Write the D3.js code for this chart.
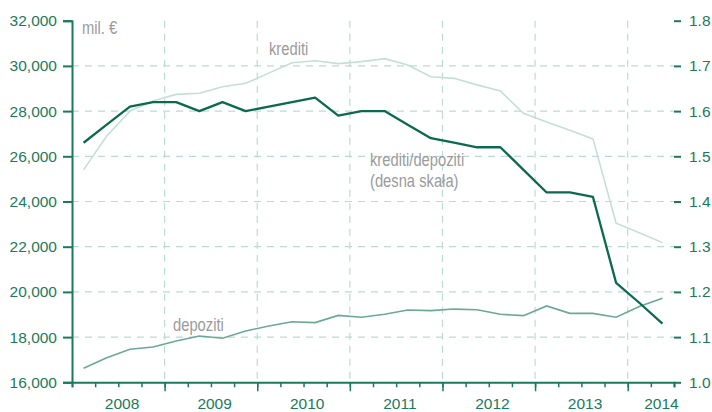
<!DOCTYPE html>
<html>
<head>
<meta charset="utf-8">
<script src="https://cdn.jsdelivr.net/npm/d3@7"></script>
<style>
  body { margin: 0; background: #fff; }
</style>
</head>
<body>
<script>
// quarterly data 2008Q1 .. 2014Q2
const quarters = [
  "2008Q1", "2008Q2", "2008Q3", "2008Q4",
  "2009Q1", "2009Q2", "2009Q3", "2009Q4",
  "2010Q1", "2010Q2", "2010Q3", "2010Q4",
  "2011Q1", "2011Q2", "2011Q3", "2011Q4",
  "2012Q1", "2012Q2", "2012Q3", "2012Q4",
  "2013Q1", "2013Q2", "2013Q3", "2013Q4",
  "2014Q1", "2014Q2"
];
const krediti = [
  25400, 26900, 28000, 28450,
  28740, 28790, 29080, 29230,
  29680, 30140, 30230, 30100,
  30190, 30320, 30040, 29520,
  29450, 29160, 28890, 27900,
  27520, 27150, 26770, 23040,
  22620, 22180
];
const depoziti = [
  16620, 17090, 17460, 17560,
  17830, 18050, 17950, 18270,
  18490, 18680, 18640, 18960,
  18880, 19010, 19200, 19170,
  19240, 19210, 19010, 18950,
  19380, 19050, 19050, 18880,
  19350, 19720
];
const ratio = [
  1.53, 1.57, 1.61, 1.62,
  1.62, 1.60, 1.62, 1.60,
  1.61, 1.62, 1.63, 1.59,
  1.60, 1.60, 1.57, 1.54,
  1.53, 1.52, 1.52, 1.47,
  1.42, 1.42, 1.41, 1.22,
  1.176, 1.13
];
const leftTicks = [16000, 18000, 20000, 22000, 24000, 26000, 28000, 30000, 32000];
const rightTicks = [1.0, 1.1, 1.2, 1.3, 1.4, 1.5, 1.6, 1.7, 1.8];
const years = ["2008", "2009", "2010", "2011", "2012", "2013", "2014"];

const tickFont = "'Liberation Sans', Arial, sans-serif";
const labelFont = "'Liberation Sans', Arial, sans-serif";
const axisColor = "#1c7a5c";
const gridColor = "#bcdcd0";
const noteColor = "#9b9b9b";

const svg = d3.select("body").append("svg")
  .attr("width", 712)
  .attr("height", 412);

// quarter -> decimal year at the middle of the quarter
const qx = (q) => +q.slice(0, 4) + (+q.slice(5) - 0.5) / 4;

const x = d3.scaleLinear().domain([2008, 2014.5]).range([72, 674]);
const yL = d3.scaleLinear().domain([16000, 32000]).range([382.3, 20.7]);
const yR = d3.scaleLinear().domain([1.0, 1.8]).range([382.3, 20.7]);

// grid
svg.append("g").selectAll("line")
  .data(leftTicks.slice(1, -1))
  .enter().append("line")
  .attr("x1", x(2008)).attr("x2", x(2014.5))
  .attr("y1", d => yL(d)).attr("y2", d => yL(d))
  .attr("stroke", gridColor).attr("stroke-width", 1.2)
  .attr("stroke-dasharray", "7,6");

svg.append("g").selectAll("line")
  .data(d3.range(2009, 2015))
  .enter().append("line")
  .attr("x1", d => x(d)).attr("x2", d => x(d))
  .attr("y1", yL(32000)).attr("y2", yL(16000))
  .attr("stroke", gridColor).attr("stroke-width", 1.2)
  .attr("stroke-dasharray", "7,6");

// bottom axis: quarter ticks and year ticks
const quarterTicks = d3.range(0, 27).map(i => 2008 + i / 4);
const gQ = svg.append("g")
  .attr("transform", `translate(0,${yL(16000)})`)
  .call(d3.axisBottom(x).tickValues(quarterTicks).tickSize(5).tickFormat(""));
gQ.select(".domain").attr("stroke", axisColor).attr("stroke-width", 2);
gQ.selectAll(".tick line").attr("stroke", axisColor).attr("stroke-width", 1.5);

const gY = svg.append("g")
  .attr("transform", `translate(0,${yL(16000)})`)
  .call(d3.axisBottom(x).tickValues(d3.range(2009, 2015)).tickSize(9).tickFormat(""));
gY.select(".domain").remove();
gY.selectAll(".tick line").attr("stroke", axisColor).attr("stroke-width", 1.5);

const yearPos = [2008.54, 2009.54, 2010.54, 2011.54, 2012.54, 2013.54, 2014.365];
svg.append("g").selectAll("text")
  .data(years)
  .enter().append("text")
  .attr("x", (d, i) => x(yearPos[i]))
  .attr("y", 409)
  .attr("text-anchor", "middle")
  .attr("font-family", tickFont)
  .attr("font-size", 15.5)
  .attr("fill", axisColor)
  .text(d => d);

// left axis
const gL = svg.append("g")
  .attr("transform", `translate(${x(2008)},0)`)
  .call(d3.axisLeft(yL).tickValues(leftTicks).tickSize(9).tickPadding(6)
    .tickFormat(d3.format(",")));
gL.select(".domain").attr("stroke", axisColor).attr("stroke-width", 2);
gL.selectAll(".tick line").attr("stroke", axisColor).attr("stroke-width", 2);
gL.selectAll(".tick text")
  .attr("font-family", tickFont).attr("font-size", 15.5).attr("fill", axisColor);

// right axis
const gR = svg.append("g")
  .attr("transform", `translate(${x(2014.5)},0)`)
  .call(d3.axisRight(yR).tickValues(rightTicks).tickSize(7).tickPadding(8)
    .tickFormat(d3.format(".1f")));
gR.select(".domain").remove();
gR.selectAll(".tick line").attr("stroke", axisColor).attr("stroke-width", 2);
gR.selectAll(".tick text")
  .attr("font-family", tickFont).attr("font-size", 15.5).attr("fill", axisColor);

// lines
const lineL = (vals) => d3.line()
  .x((d, i) => x(qx(quarters[i])))
  .y(d => yL(d))(vals);
const lineR = d3.line()
  .x((d, i) => x(qx(quarters[i])))
  .y(d => yR(d));

svg.append("path")
  .attr("d", lineL(krediti))
  .attr("fill", "none")
  .attr("stroke", "#c4e0d5")
  .attr("stroke-width", 1.6);

svg.append("path")
  .attr("d", lineL(depoziti))
  .attr("fill", "none")
  .attr("stroke", "#6aa994")
  .attr("stroke-width", 1.6);

svg.append("path")
  .attr("d", lineR(ratio))
  .attr("fill", "none")
  .attr("stroke", "#0b6a4d")
  .attr("stroke-width", 2.3)
  .attr("stroke-linejoin", "round");

// annotations (condensed look: horizontally squeezed sans)
const notes = [
  { t: "mil. €", x: 82, y: 34 },
  { t: "krediti", x: 269, y: 55 },
  { t: "krediti/depoziti", x: 370, y: 166 },
  { t: "(desna skała)", x: 370, y: 187 },
  { t: "depoziti", x: 173, y: 331 }
];
svg.append("g").selectAll("text")
  .data(notes)
  .enter().append("text")
  .attr("transform", d => `translate(${d.x},${d.y}) scale(0.82,1)`)
  .attr("font-family", labelFont)
  .attr("font-size", 18)
  .attr("fill", noteColor)
  .text(d => d.t);
</script>
</body>
</html>
